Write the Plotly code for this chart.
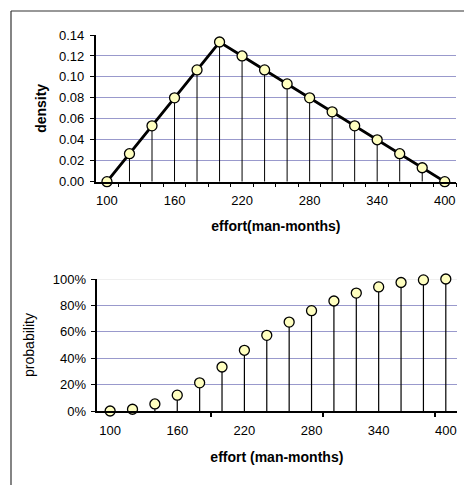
import plotly.graph_objects as go

effort = [100, 120, 140, 160, 180, 200, 220, 240, 260, 280, 300, 320, 340, 360, 380, 400]
density = [0.0, 0.0267, 0.0533, 0.08, 0.1067, 0.1333, 0.12, 0.1067, 0.0933, 0.08,
           0.0667, 0.0533, 0.04, 0.0267, 0.0133, 0.0]
probability = [0.0, 0.0133, 0.0533, 0.12, 0.2133, 0.3333, 0.46, 0.5733, 0.6733, 0.76,
               0.8333, 0.8933, 0.94, 0.9733, 0.9933, 1.0]
x_labels = [100, 160, 220, 280, 340, 400]
top_minor_ticks = [110, 130, 150, 170, 190, 210, 230, 250, 270, 290, 310, 330, 350, 370, 390, 410]
bottom_minor_ticks = [190, 290, 390]
density_ticks = [0.0, 0.02, 0.04, 0.06, 0.08, 0.10, 0.12, 0.14]
density_grid = [0.02, 0.04, 0.06, 0.08, 0.10, 0.12]
prob_ticks = [0.0, 0.2, 0.4, 0.6, 0.8, 1.0]
prob_grid = [0.2, 0.4, 0.6, 0.8]

FONT = "Liberation Sans, Arial, sans-serif"
MARKER = dict(size=10, color="#FFFFC0", line=dict(color="black", width=1.3))
GRID = "#9999CC"
W, H = 464, 477  # page body has an 8px margin in a 472x485 window

fig = go.Figure()

# stems top
sx, sy = [], []
for x, y in zip(effort, density):
    sx += [x, x, None]
    sy += [0, y, None]
fig.add_trace(go.Scatter(x=sx, y=sy, mode="lines", line=dict(color="black", width=1),
                         xaxis="x", yaxis="y", hoverinfo="skip", showlegend=False))
fig.add_trace(go.Scatter(x=effort, y=density, mode="lines+markers",
                         line=dict(color="black", width=2.8), marker=MARKER,
                         xaxis="x", yaxis="y", cliponaxis=False, showlegend=False))

# stems bottom
bx, by = [], []
for x, y in zip(effort, probability):
    bx += [x, x, None]
    by += [0, y, None]
fig.add_trace(go.Scatter(x=bx, y=by, mode="lines", line=dict(color="black", width=1.2),
                         xaxis="x2", yaxis="y2", hoverinfo="skip", showlegend=False))
fig.add_trace(go.Scatter(x=effort, y=probability, mode="markers", marker=MARKER,
                         xaxis="x2", yaxis="y2", cliponaxis=False, showlegend=False))

tickfont = dict(family=FONT, size=13, color="black")
titlefont = dict(family=FONT, size=14, color="black")

fig.update_layout(
    width=W, height=H,
    margin=dict(l=0, r=0, t=0, b=0, autoexpand=False),
    paper_bgcolor="white", plot_bgcolor="white",
    font=dict(family=FONT, size=13, color="black"),
    xaxis=dict(domain=[87.7 / W, 448 / W], range=[90, 410], anchor="y", automargin=False,
               tickmode="array", tickvals=x_labels, ticks="", tickfont=tickfont,
               ticklabelstandoff=6,
               showgrid=False, zeroline=False, showline=True, linecolor="black", linewidth=1.5,
               minor=dict(tickmode="array", tickvals=top_minor_ticks, ticks="outside",
                          ticklen=4, tickcolor="black", tickwidth=1, showgrid=False),
               title=dict(text="<b>effort(man-months)</b>", font=titlefont, standoff=14)),
    yaxis=dict(domain=[1 - 173.7 / H, 1 - 27 / H], range=[0, 0.14], anchor="x", automargin=False,
               tickmode="array", tickvals=density_ticks, tickformat=".2f",
               ticks="outside", ticklen=4, tickcolor="black", tickfont=tickfont,
               ticklabelstandoff=3,
               showgrid=False, zeroline=False,
               minor=dict(tickmode="array", tickvals=density_grid, ticks="",
                          showgrid=True, gridcolor=GRID, gridwidth=1),
               showline=True, linecolor="black", linewidth=1.5,
               title=dict(text="<b>density</b>", font=titlefont, standoff=9)),
    xaxis2=dict(domain=[88.7 / W, 449 / W], range=[88, 410], anchor="y2", automargin=False,
                tickmode="array", tickvals=x_labels, ticks="", tickfont=tickfont,
                ticklabelstandoff=6,
                showgrid=False, zeroline=False, showline=True, linecolor="black", linewidth=2.2,
                minor=dict(tickmode="array", tickvals=bottom_minor_ticks, ticks="outside",
                           ticklen=4, tickcolor="black", tickwidth=1.5, showgrid=False),
                title=dict(text="<b>effort (man-months)</b>", font=titlefont, standoff=15)),
    yaxis2=dict(domain=[1 - 403 / H, 1 - 271 / H], range=[0, 1], anchor="x2", automargin=False,
                tickmode="array", tickvals=prob_ticks, tickformat=".0%",
                ticks="outside", ticklen=4, tickcolor="black", tickfont=tickfont,
                ticklabelstandoff=2,
                showgrid=False, zeroline=False,
                minor=dict(tickmode="array", tickvals=prob_grid, ticks="",
                           showgrid=True, gridcolor=GRID, gridwidth=1),
                showline=True, linecolor="black", linewidth=2.2,
                title=dict(text="probability", font=titlefont, standoff=15)),
    shapes=[
        dict(type="line", xref="x2 domain", yref="y2", x0=0, x1=1, y0=1, y1=1,
             line=dict(color="#E0E0E0", width=1), layer="below"),
        dict(type="line", xref="paper", yref="paper", x0=3 / W, x1=1, y0=1 - 3 / H, y1=1 - 3 / H,
             line=dict(color="#333333", width=1.2)),
        dict(type="line", xref="paper", yref="paper", x0=3 / W, x1=3 / W, y0=0, y1=1 - 3 / H,
             line=dict(color="#333333", width=1.2)),
    ],
)

fig.write_html("out.html")
